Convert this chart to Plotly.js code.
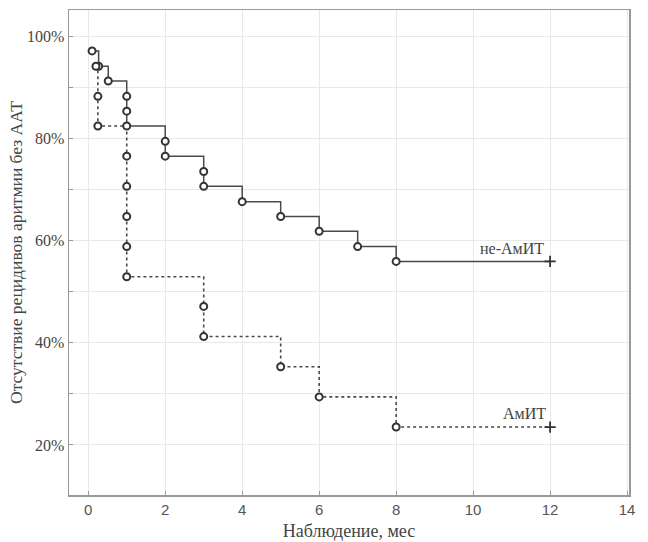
<!DOCTYPE html>
<html>
<head>
<meta charset="utf-8">
<script src="https://cdn.plot.ly/plotly-3.0.1.min.js"></script>
<style>html,body{margin:0;padding:0;background:#fff;}#chart{width:648px;height:542px;}</style>
</head>
<body>
<div id="chart"></div>
<script>
// Non-AmIT (solid) Kaplan-Meier steps
var nonAmitX = [0.1, 0.27, 0.52, 1, 1, 1, 2, 2, 3, 3, 4, 5, 6, 7, 8];
var nonAmitY = [97.1, 94.1, 91.2, 88.2, 85.3, 82.4, 79.4, 76.5, 73.5, 70.6, 67.6, 64.7, 61.8, 58.8, 55.9];
var nonAmitEndX = 12;
var nonAmitEndY = 55.9;

// AmIT (dotted) Kaplan-Meier steps
var amitX = [0.2, 0.25, 0.25, 1, 1, 1, 1, 1, 3, 3, 5, 6, 8];
var amitY = [94.1, 88.2, 82.4, 76.5, 70.6, 64.7, 58.8, 52.9, 47.1, 41.2, 35.3, 29.4, 23.5];
var amitEndX = 12;
var amitEndY = 23.5;

var seriesNames = ['не-АмИТ', 'АмИТ'];
var xTicks = [0, 2, 4, 6, 8, 10, 12, 14];
var yTickVals = [20, 30, 40, 50, 60, 70, 80, 90, 100];
var yTickText = ['20%', '', '40%', '', '60%', '', '80%', '', '100%'];

var lineCol = '#4a4a4a';
var serif = 'Liberation Serif, Times New Roman, serif';

var traces = [
  {x: nonAmitX.concat([nonAmitEndX]), y: nonAmitY.concat([nonAmitEndY]), mode: 'lines', line: {shape: 'hv', color: lineCol, width: 1.5}, hoverinfo: 'skip'},
  {x: amitX.concat([amitEndX]), y: amitY.concat([amitEndY]), mode: 'lines', line: {shape: 'hv', color: lineCol, width: 1.6, dash: 'dot'}, hoverinfo: 'skip'},
  {x: nonAmitX, y: nonAmitY, mode: 'markers', marker: {symbol: 'circle', size: 7, color: '#fff', line: {color: '#333', width: 2}}},
  {x: amitX, y: amitY, mode: 'markers', marker: {symbol: 'circle', size: 7, color: '#fff', line: {color: '#333', width: 2}}},
  {x: [nonAmitEndX, amitEndX], y: [nonAmitEndY, amitEndY], mode: 'markers', marker: {symbol: 'cross-thin', size: 8, line: {color: '#333', width: 1.8}}}
];

var layout = {
  width: 648, height: 542,
  margin: {l: 69, r: 19, t: 10, b: 47},
  paper_bgcolor: '#fff', plot_bgcolor: '#fff',
  showlegend: false,
  xaxis: {
    range: [-0.5, 14.05], tickvals: xTicks, ticktext: xTicks.map(String),
    showgrid: true, gridcolor: '#e8e8e8', gridwidth: 1, zeroline: false,
    showline: true, linecolor: '#999', linewidth: 1.5, mirror: true,
    ticks: 'inside', ticklen: 4, tickcolor: '#999',
    tickfont: {family: 'Liberation Sans, Arial, sans-serif', size: 15, color: '#555'},
    title: {text: 'Наблюдение, мес', font: {family: serif, size: 18, color: '#444'}, standoff: 8}
  },
  yaxis: {
    range: [10.2, 105.1], tickvals: yTickVals, ticktext: yTickText,
    showgrid: true, gridcolor: '#e8e8e8', gridwidth: 1, zeroline: false,
    showline: true, linecolor: '#999', linewidth: 1.5, mirror: true,
    ticks: 'inside', ticklen: 4, tickcolor: '#999',
    tickfont: {family: serif, size: 16, color: '#444'},
    title: {text: 'Отсутствие рецидивов аритмии без ААТ', font: {family: serif, size: 17.5, color: '#444'}, standoff: 0}
  },
  annotations: [
    {x: 11.9, y: 58.5, xref: 'x', yref: 'y', text: seriesNames[0], showarrow: false, xanchor: 'right', yanchor: 'middle', font: {family: serif, size: 16, color: '#444'}},
    {x: 11.95, y: 26.2, xref: 'x', yref: 'y', text: seriesNames[1], showarrow: false, xanchor: 'right', yanchor: 'middle', font: {family: serif, size: 16, color: '#444'}}
  ]
};

Plotly.newPlot('chart', traces, layout, {displayModeBar: false, staticPlot: true});
</script>
</body>
</html>
